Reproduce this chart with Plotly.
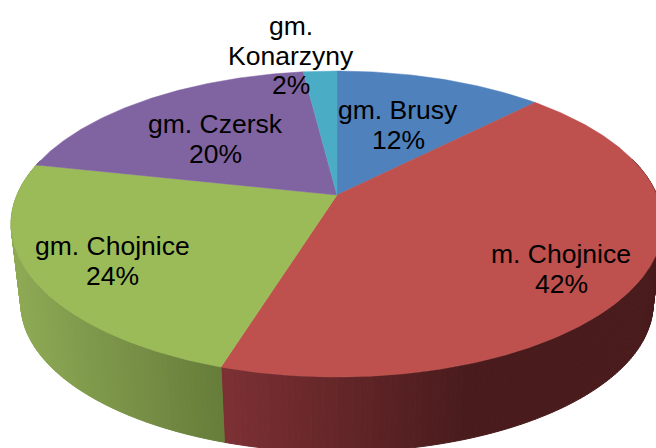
import math
import plotly.graph_objects as go

names = ["gm. Brusy", "m. Chojnice", "gm. Chojnice", "gm. Czersk", "gm. Konarzyny"]
name_lines = [["gm. Brusy"], ["m. Chojnice"], ["gm. Chojnice"], ["gm. Czersk"], ["gm.", "Konarzyny"]]
values = [12.4, 42.4, 23.6, 19.6, 2.0]
colors = ["#4F81BD", "#BE504D", "#9BBB59", "#8064A2", "#4BACC6"]
side_left = ["#3A5F8C", "#7C3034", "#8EAA55", "#5E4A78", "#37808F"]
side_right = ["#2A4566", "#491B1C", "#667C3A", "#443556", "#275C68"]

W, H = 656, 448
CX, APEX_Y, A, B, K = 337, 195, 320, 147.5, 0.1895
SCALE, BOTTOM_Y = 0.97, 275.5
LABEL_POS = [(398, 110), (561, 254), (112, 246), (215, 124), (291, 26)]
LINE_H = 29.5
FONT = "Liberation Sans, Arial, sans-serif"


def project(frac, ax=A, bx=B, apex=APEX_Y):
    t = 2 * math.pi * frac
    u, v = math.sin(t), math.cos(t)
    d = 1 + K * v
    return CX + ax * u / d, apex - bx * v / d


def mix(c1, c2, f):
    f = max(0, min(1, f))
    p = [int(c1[i:i + 2], 16) for i in (1, 3, 5)]
    q = [int(c2[i:i + 2], 16) for i in (1, 3, 5)]
    return "rgb(%d,%d,%d)" % tuple(round(a + (b - a) * f) for a, b in zip(p, q))


total = sum(values)
fig = go.Figure()
starts = []
c = 0
for val in values:
    starts.append(c / total)
    c += val

# side wall
for i, val in enumerate(values):
    s, e = starts[i], starts[i] + val / total
    n = max(2, int(val * 4))
    xs_all = [project(s + (e - s) * j / n)[0] for j in range(n + 1)]
    lo, hi = min(xs_all), max(xs_all)
    if i == 1:
        lo, hi = 225, 470
    for j in range(n):
        f0, f1 = s + (e - s) * j / n, s + (e - s) * (j + 1) / n
        a0, a1 = project(f0), project(f1)
        b0 = project(f0, A * SCALE, B * SCALE, BOTTOM_Y)
        b1 = project(f1, A * SCALE, B * SCALE, BOTTOM_Y)
        if math.cos(2 * math.pi * (f0 + f1) / 2) > 0.25:
            continue
        col = mix(side_left[i], side_right[i], ((a0[0] + a1[0]) / 2 - lo) / (hi - lo))
        fig.add_trace(go.Scatter(
            x=[a0[0], a1[0], b1[0], b0[0], a0[0]],
            y=[a0[1], a1[1], b1[1], b0[1], a0[1]],
            mode="lines", fill="toself", fillcolor=col,
            line=dict(color=col, width=1), hoverinfo="skip", showlegend=False))

# top face
for i, val in enumerate(values):
    s, e = starts[i], starts[i] + val / total
    n = max(8, int(val * 6))
    pts = [project(s + (e - s) * j / n) for j in range(n + 1)]
    xs = [CX] + [p[0] for p in pts] + [CX]
    ys = [APEX_Y] + [p[1] for p in pts] + [APEX_Y]
    fig.add_trace(go.Scatter(
        x=xs, y=ys, mode="lines", fill="toself", fillcolor=colors[i],
        line=dict(color=colors[i], width=0.5), name=names[i],
        hoverinfo="name", showlegend=False))

ann = []
for lines, val, (lx, ly) in zip(name_lines, values, LABEL_POS):
    rows = lines + ["%d%%" % round(val)]
    for k, row in enumerate(rows):
        ann.append(dict(x=lx, y=ly + k * LINE_H, text=row, showarrow=False,
                        xanchor="center", yanchor="middle",
                        font=dict(family=FONT, size=26.5, color="#000000")))

fig.update_layout(
    width=W, height=H, margin=dict(l=0, r=0, t=0, b=0),
    paper_bgcolor="white", plot_bgcolor="white", annotations=ann,
    xaxis=dict(range=[0, W], visible=False, fixedrange=True),
    yaxis=dict(range=[H, 0], visible=False, fixedrange=True),
)
fig.write_html("out.html", config={"displayModeBar": False},
               post_script="document.body.style.margin='0';document.documentElement.style.overflow='hidden';")
